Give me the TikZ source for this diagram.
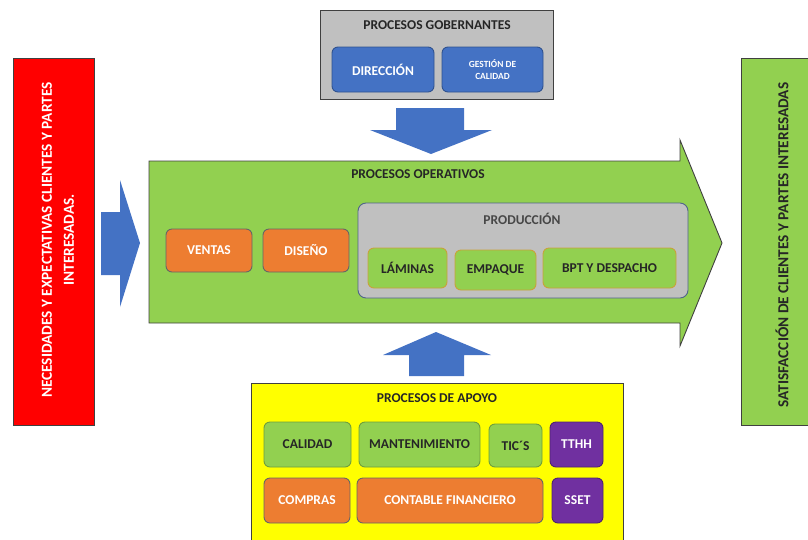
\documentclass[tikz,border=0pt]{standalone}
\usepackage{fontspec}
\setmainfont{Carlito}

\definecolor{cblue}{HTML}{4472C4}
\definecolor{cblueline}{HTML}{2F528F}
\definecolor{corange}{HTML}{ED7D31}
\definecolor{cgreen}{HTML}{92D050}
\definecolor{cgreenline}{HTML}{6E9E3C}
\definecolor{cgold}{HTML}{C9A23A}
\definecolor{cpurple}{HTML}{7030A0}
\definecolor{cgray}{HTML}{C0C0C0}
\definecolor{cyellow}{HTML}{FFFF00}
\definecolor{cred}{HTML}{FF0000}
\definecolor{cdark}{HTML}{262626}
\definecolor{cframe}{HTML}{404040}

\tikzset{
  panel/.style={draw=cframe, line width=0.9pt, inner sep=0pt},
  procbox/.style={rounded corners=6pt, line width=0.9pt, inner sep=0pt,
    font=\bfseries\fontsize{13.5}{15}\selectfont, align=center},
  bluebox/.style={procbox, fill=cblue, draw=cblueline, text=white},
  orangebox/.style={procbox, fill=corange, draw=gray!80!black, text=white},
  greenbox/.style={procbox, fill=cgreen, draw=cgreenline, text=cdark},
  goldbox/.style={procbox, fill=cgreen, draw=cgold, text=cdark},
  purplebox/.style={procbox, fill=cpurple, draw=cpurple!70!black, text=white},
  title/.style={font=\bfseries\fontsize{13.5}{15}\selectfont, text=cdark},
  sidetext/.style={rotate=90, align=center, font=\bfseries\fontsize{15.3}{22}\selectfont},
}

\begin{document}
\begin{tikzpicture}[x=1pt, y=-1pt]
\useasboundingbox (0,0) rectangle (808,539);

% ---- inputs and outputs ----
\node[panel, fill=cred, minimum width=81, minimum height=367] (needs) at (53.5,241.5) {};
\node[sidetext, text=white] (needstext) at (58,240)
  {NECESIDADES Y EXPECTATIVAS CLIENTES Y PARTES\\INTERESADAS.};
\node[panel, fill=cgreen, minimum width=70, minimum height=367] (satis) at (776,241.5) {};
\node[sidetext, text=cdark] (satistext) at (782,245)
  {SATISFACCIÓN DE CLIENTES Y PARTES INTERESADAS};

% ---- input arrow ----
\fill[cblue] (101,212) -- (120,212) -- (120,180) -- (140,243) -- (120,307) -- (120,275) -- (101,275) -- cycle;

% ---- main operative arrow ----
\draw[fill=cgreen, draw=cframe, line width=0.9pt]
  (149,161) -- (680,161) -- (680,140) -- (722,243) -- (680,346) -- (680,323) -- (149,323) -- cycle;
\node[title] (optitle) at (418,174) {PROCESOS OPERATIVOS};

\node[orangebox, minimum width=86, minimum height=43] (ventas) at (209,250.5) {VENTAS};
\node[orangebox, minimum width=86, minimum height=43] (diseno) at (306,250.5) {DISEÑO};

\node[fill=cgray, draw=cblueline!60!gray, rounded corners=8pt, line width=0.9pt,
      minimum width=330, minimum height=95] (prod) at (523,250.5) {};
\node[title, text=cdark!85] (prodtitle) at (522,219) {PRODUCCIÓN};
\node[goldbox, minimum width=79, minimum height=40] (laminas) at (407.5,268) {LÁMINAS};
\node[goldbox, minimum width=81, minimum height=40] (empaque) at (495.5,270) {EMPAQUE};
\node[goldbox, minimum width=133, minimum height=40] (bpt) at (609.5,268) {BPT Y DESPACHO};

% ---- governing processes ----
\node[panel, fill=cgray, minimum width=233, minimum height=89] (gob) at (437,54.5) {};
\node[title] (gobtitle) at (437,25) {PROCESOS GOBERNANTES};
\node[bluebox, minimum width=102, minimum height=45] (dir) at (383,69.5) {DIRECCIÓN};
\node[bluebox, minimum width=101, minimum height=45,
      font=\bfseries\fontsize{9.4}{12}\selectfont] (gestion) at (492.5,69.5) {GESTIÓN DE\\CALIDAD};

\fill[cblue] (396,108) -- (464,108) -- (464,130) -- (492,130) -- (431,154) -- (370,130) -- (396,130) -- cycle;

% ---- support processes ----
\fill[cblue] (409,376) -- (409,355) -- (383,355) -- (436,332) -- (491,355) -- (464,355) -- (464,376) -- cycle;

\draw[fill=cyellow, draw=cframe, line width=0.9pt] (251,545) -- (251,383) -- (623,383) -- (623,545);
\node[title] (apoyotitle) at (437,398) {PROCESOS DE APOYO};

\node[greenbox, minimum width=87, minimum height=45] (calidad) at (307.5,444.5) {CALIDAD};
\node[greenbox, minimum width=121, minimum height=45] (mant) at (419.5,444.5) {MANTENIMIENTO};
\node[greenbox, minimum width=53, minimum height=43] (tics) at (515.5,445.5) {TIC´S};
\node[purplebox, minimum width=53, minimum height=45] (tthh) at (576.5,444.5) {TTHH};
\node[orangebox, minimum width=86, minimum height=45] (compras) at (307,500.5) {COMPRAS};
\node[orangebox, minimum width=186, minimum height=45] (contable) at (450,500.5) {CONTABLE FINANCIERO};
\node[purplebox, minimum width=51, minimum height=45] (sset) at (577.5,500.5) {SSET};

\end{tikzpicture}
\end{document}
